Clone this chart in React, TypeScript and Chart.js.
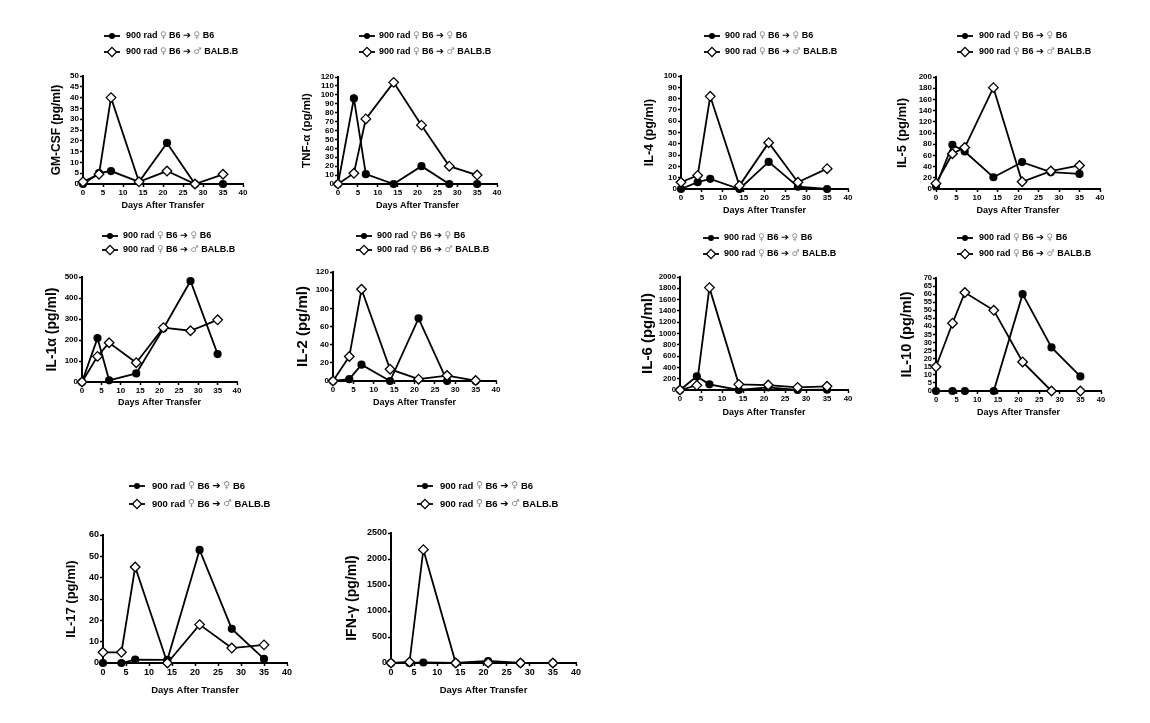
import React, { useEffect, useRef } from "react";
import { Chart, registerables } from "chart.js";
Chart.register(...registerables);

const days = [0, 4, 7, 14, 21, 28, 35];
const xTitle = "Days After Transfer";
const xTicksMax = 40;
const xTickStep = 5;

const gmcsfB6 = [0, 5, 6, 1, 19, 0, 0];
const gmcsfBalb = [1, 4.5, 40, 1, 6, 0, 4.5];
const tnfB6 = [0, 96, 11, 0, 20, 0, 0];
const tnfBalb = [0, 12, 73, 114, 66, 20, 10];
const il4B6 = [0, 6, 9, 0, 24, 2, 0];
const il4Balb = [6, 12, 82, 3, 41, 6, 18];
const il5B6 = [5, 79, 67, 21, 48, 30, 27];
const il5Balb = [10, 63, 74, 181, 13, 32, 42];
const il1aB6 = [0, 209, 8, 41, 255, 481, 133];
const il1aBalb = [0, 122, 187, 92, 259, 244, 296];
const il2B6 = [0, 2, 18, 0, 69, 0, 0];
const il2Balb = [0, 27, 101, 13, 2, 6, 0.5];
const il6B6 = [0, 241, 100, 0, 47, 0, 5];
const il6Balb = [0, 82, 1812, 100, 88, 47, 65];
const il10B6 = [0, 0, 0, 0, 60, 27, 9];
const il10Balb = [15, 42, 61, 50, 18, 0, 0];
const il17B6 = [0, 0, 1.6, 1.5, 53, 16, 1.9];
const il17Balb = [5, 5, 45, 0, 18, 7, 8.5];
const ifnB6 = [0, 0, 10, 0, 38, 0, 0];
const ifnBalb = [0, 19, 2180, 0, 5, 0, 0];

type Cfg = {
  title: string; b6: number[]; balb: number[]; ymax: number; step: number;
  L: number; R: number; T: number; B: number;
  yTitleX: number; xTitleY: number; mx: number; tx: number; ly1: number; ly2: number;
  tick: number; yt: number; xt: number; lg: number;
};

const panels: Cfg[] = [
  { title: "GM-CSF (pg/ml)", b6: gmcsfB6, balb: gmcsfBalb, ymax: 50, step: 5, L: 83, R: 243, T: 76, B: 184, yTitleX: 56, xTitleY: 206, mx: 112, tx: 126, ly1: 36, ly2: 52, tick: 8, yt: 12, xt: 9, lg: 9 },
  { title: "TNF-α (pg/ml)", b6: tnfB6, balb: tnfBalb, ymax: 120, step: 10, L: 338, R: 497, T: 77, B: 184, yTitleX: 307, xTitleY: 206, mx: 367, tx: 379, ly1: 36, ly2: 52, tick: 8, yt: 11.5, xt: 9, lg: 9 },
  { title: "IL-4 (pg/ml)", b6: il4B6, balb: il4Balb, ymax: 100, step: 10, L: 681, R: 848, T: 76, B: 189, yTitleX: 649, xTitleY: 211, mx: 712, tx: 725, ly1: 36, ly2: 52, tick: 8, yt: 12.5, xt: 9, lg: 9 },
  { title: "IL-5 (pg/ml)", b6: il5B6, balb: il5Balb, ymax: 200, step: 20, L: 936, R: 1100, T: 77, B: 189, yTitleX: 903, xTitleY: 211, mx: 965, tx: 979, ly1: 36, ly2: 52, tick: 8, yt: 13, xt: 9, lg: 9 },
  { title: "IL-1α (pg/ml)", b6: il1aB6, balb: il1aBalb, ymax: 500, step: 100, L: 82, R: 237, T: 277, B: 382, yTitleX: 52, xTitleY: 403, mx: 110, tx: 123, ly1: 236, ly2: 250, tick: 8, yt: 14, xt: 9, lg: 9 },
  { title: "IL-2 (pg/ml)", b6: il2B6, balb: il2Balb, ymax: 120, step: 20, L: 333, R: 496, T: 272, B: 381, yTitleX: 303, xTitleY: 403, mx: 364, tx: 377, ly1: 236, ly2: 250, tick: 8, yt: 15, xt: 9, lg: 9 },
  { title: "IL-6 (pg/ml)", b6: il6B6, balb: il6Balb, ymax: 2000, step: 200, L: 680, R: 848, T: 277, B: 390, yTitleX: 648, xTitleY: 413, mx: 711, tx: 724, ly1: 238, ly2: 254, tick: 7.8, yt: 15, xt: 9, lg: 9 },
  { title: "IL-10 (pg/ml)", b6: il10B6, balb: il10Balb, ymax: 70, step: 5, L: 936, R: 1101, T: 278, B: 391, yTitleX: 907, xTitleY: 413, mx: 965, tx: 979, ly1: 238, ly2: 254, tick: 7.5, yt: 14.5, xt: 9, lg: 9 },
  { title: "IL-17 (pg/ml)", b6: il17B6, balb: il17Balb, ymax: 60, step: 10, L: 103, R: 287, T: 535, B: 663, yTitleX: 72, xTitleY: 690, mx: 137, tx: 152, ly1: 486, ly2: 504, tick: 9, yt: 13, xt: 9.5, lg: 9.5 },
  { title: "IFN-γ (pg/ml)", b6: ifnB6, balb: ifnBalb, ymax: 2500, step: 500, L: 391, R: 576, T: 533, B: 663, yTitleX: 352, xTitleY: 690, mx: 425, tx: 440, ly1: 486, ly2: 504, tick: 9, yt: 14, xt: 9.5, lg: 9.5 },
];

const FONT = '"Liberation Sans", Arial, "DejaVu Sans", sans-serif';

function Panel({ cfg }: { cfg: Cfg }) {
  const ref = useRef<HTMLCanvasElement>(null);
  const cx0 = Math.round(cfg.yTitleX - 0.6 * cfg.yt);
  const cy0 = cfg.ly1 - 12;
  const cright = cfg.R + 14;
  const cbottom = Math.round(cfg.xTitleY + 0.6 * cfg.xt);
  const w = cright - cx0;
  const h = cbottom - cy0;

  useEffect(() => {
    const legendPlugin = {
      id: "customLegend",
      afterDraw(chart: any) {
        const ctx = chart.ctx as CanvasRenderingContext2D;
        ctx.save();
        const rows: [number, boolean, string][] = [
          [cfg.ly1, true, " B6"],
          [cfg.ly2, false, " BALB.B"],
        ];
        rows.forEach(([ly, filled, tail]) => {
          const y = ly - cy0;
          const mx = cfg.mx - cx0;
          ctx.strokeStyle = "#000";
          ctx.lineWidth = 1.8;
          ctx.beginPath();
          ctx.moveTo(mx - 8, y);
          ctx.lineTo(mx + 8, y);
          ctx.stroke();
          if (filled) {
            ctx.fillStyle = "#000";
            ctx.beginPath();
            ctx.arc(mx, y, 3, 0, Math.PI * 2);
            ctx.fill();
          } else {
            const r = 4.6;
            ctx.fillStyle = "#fff";
            ctx.lineWidth = 1.3;
            ctx.beginPath();
            ctx.moveTo(mx, y - r);
            ctx.lineTo(mx + r, y);
            ctx.lineTo(mx, y + r);
            ctx.lineTo(mx - r, y);
            ctx.closePath();
            ctx.fill();
            ctx.stroke();
          }
          const bold = `bold ${cfg.lg}px ${FONT}`;
          const sym = `${cfg.lg}px "DejaVu Sans", sans-serif`;
          const arrow = `bold ${cfg.lg + 0.5}px "DejaVu Sans", sans-serif`;
          const segs: [string, string, string][] = [
            ["900 rad ", bold, "#000"],
            ["♀", sym, "#8a8a8a"],
            [" B6 ", bold, "#000"],
            ["➔", arrow, "#000"],
            [" ", bold, "#000"],
            [filled ? "♀" : "♂", sym, "#8a8a8a"],
            [tail, bold, "#000"],
          ];
          let x = cfg.tx - cx0;
          ctx.textBaseline = "middle";
          ctx.textAlign = "left";
          segs.forEach(([t, f, c]) => {
            ctx.font = f;
            ctx.fillStyle = c;
            ctx.fillText(t, x, y);
            x += ctx.measureText(t).width;
          });
        });
        ctx.restore();
      },
    };

    const tickFont = { family: FONT, size: cfg.tick, weight: "bold" as const };
    const fmt = (v: any) => String(v);
    const chart = new Chart(ref.current as HTMLCanvasElement, {
      type: "line",
      data: {
        datasets: [
          {
            label: "900 rad ♀ B6 ➔ ♀ B6",
            data: days.map((d, i) => ({ x: d, y: cfg.b6[i] })),
            borderColor: "#000",
            backgroundColor: "#000",
            pointBackgroundColor: "#000",
            pointBorderColor: "#000",
            pointStyle: "circle",
            pointRadius: 3.2,
            borderWidth: 1.8,
            tension: 0,
            clip: false as any,
            order: 1,
          },
          {
            label: "900 rad ♀ B6 ➔ ♂ BALB.B",
            data: days.map((d, i) => ({ x: d, y: cfg.balb[i] })),
            borderColor: "#000",
            backgroundColor: "#fff",
            pointBackgroundColor: "#fff",
            pointBorderColor: "#000",
            pointBorderWidth: 1.3,
            pointStyle: "rectRot",
            pointRadius: 4.8,
            borderWidth: 1.8,
            tension: 0,
            clip: false as any,
            order: 0,
          },
        ],
      },
      options: {
        responsive: false,
        animation: false,
        events: [],
        layout: { padding: { left: 0, top: cfg.T - cy0, right: cright - cfg.R, bottom: 0 } },
        plugins: { legend: { display: false }, tooltip: { enabled: false } },
        scales: {
          x: {
            type: "linear",
            min: 0,
            max: xTicksMax,
            offset: false,
            ticks: { stepSize: xTickStep, autoSkip: false, maxRotation: 0, font: tickFont, color: "#000", padding: 1, callback: fmt },
            grid: { drawOnChartArea: false, drawTicks: true, tickLength: 3, tickColor: "#000", tickWidth: 1.5 },
            border: { color: "#000", width: 2 },
            title: { display: true, text: xTitle, color: "#000", font: { family: FONT, size: cfg.xt, weight: "bold" }, padding: 0 },
            afterFit: (s: any) => { s.height = cbottom - cfg.B; },
          },
          y: {
            type: "linear",
            min: 0,
            max: cfg.ymax,
            ticks: { stepSize: cfg.step, autoSkip: false, font: tickFont, color: "#000", padding: 1, callback: fmt },
            grid: { drawOnChartArea: false, drawTicks: true, tickLength: 3, tickColor: "#000", tickWidth: 1.5 },
            border: { color: "#000", width: 2 },
            title: { display: true, text: cfg.title, color: "#000", font: { family: FONT, size: cfg.yt, weight: "bold" }, padding: 0 },
            afterFit: (s: any) => { s.width = cfg.L - cx0; },
          },
        },
      } as any,
      plugins: [legendPlugin],
    });
    return () => chart.destroy();
  }, []);

  return (
    <canvas
      ref={ref}
      width={w}
      height={h}
      style={{ position: "absolute", left: cx0, top: cy0, width: w, height: h }}
    />
  );
}

export default function App() {
  return (
    <div style={{ position: "absolute", left: 0, top: 0, width: 1150, height: 723, background: "#fff", overflow: "hidden" }}>
      {panels.map((p, i) => (
        <Panel key={i} cfg={p} />
      ))}
    </div>
  );
}
